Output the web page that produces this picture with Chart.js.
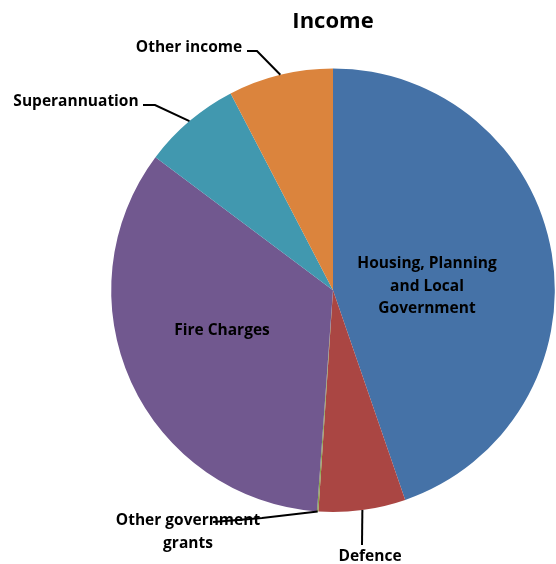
<!DOCTYPE html>
<html>
<head>
<meta charset="utf-8">
<script src="https://cdn.jsdelivr.net/npm/chart.js@4/dist/chart.umd.min.js"></script>
<style>
  html, body { margin: 0; padding: 0; background: #fff; }
  #wrap { width: 556px; height: 564px; position: relative; }
</style>
</head>
<body>
<div id="wrap"><canvas id="chart-income"></canvas></div>
<script>
// ── DATA ──────────────────────────────────────────────────────────────────
const CATEGORIES = ['Housing, Planning and Local Government', 'Defence', 'Other government grants', 'Fire Charges', 'Superannuation', 'Other income'];
const VALUES     = [44.75, 6.33, 0.1, 34.1, 7.14, 7.64];
const COLORS     = ['#4572A7', '#AA4643', '#89A54E', '#71588F', '#4198AF', '#DB843D'];

// label layout (text lines, text centre, leader elbow/end)
const LABELS = [
  { lines: ['Housing, Planning', 'and Local', 'Government'], x: 427, y: 264, step: 22.5 },
  { lines: ['Defence'], x: 370, y: 557, leader: [[362, 545]] },
  { lines: ['Other government', 'grants'], x: 188, y: 521, step: 23, leader: [[262, 518], [213, 522]] },
  { lines: ['Fire Charges'], x: 222, y: 331 },
  { lines: ['Superannuation'], x: 76, y: 102, leader: [[155, 105], [143, 105]] },
  { lines: ['Other income'], x: 189, y: 48, leader: [[257, 51], [247, 51]] },
];

const FONT = "'Open Sans', sans-serif";

// ── LABELS + LEADER LINES ────────────────────────────────────────────────
const labelPlugin = {
  id: 'pieLabels',
  afterDatasetsDraw(chart) {
    const { ctx } = chart;
    const arcs = chart.getDatasetMeta(0).data;
    ctx.save();
    ctx.strokeStyle = '#000';
    ctx.lineWidth = 2;
    arcs.forEach((arc, i) => {
      const lab = LABELS[i];
      if (!lab.leader) return;
      const mid = (arc.startAngle + arc.endAngle) / 2;
      ctx.beginPath();
      ctx.moveTo(arc.x + Math.cos(mid) * arc.outerRadius, arc.y + Math.sin(mid) * arc.outerRadius);
      lab.leader.forEach(p => ctx.lineTo(p[0], p[1]));
      ctx.stroke();
    });
    ctx.fillStyle = '#000';
    ctx.font = `bold 15.5px ${FONT}`;
    ctx.textAlign = 'center';
    ctx.textBaseline = 'middle';
    LABELS.forEach(lab => {
      lab.lines.forEach((t, j) => ctx.fillText(t, lab.x, lab.y + j * (lab.step || 0)));
    });
    ctx.restore();
  }
};

// ── PIE ──────────────────────────────────────────────────────────────────
new Chart(document.getElementById('chart-income'), {
  type: 'pie',
  data: {
    labels: CATEGORIES,
    datasets: [{
      data: VALUES,
      backgroundColor: COLORS,
      borderWidth: 0,
    }]
  },
  options: {
    responsive: true, maintainAspectRatio: false,
    animation: false,
    layout: { padding: { left: 111, right: 1, top: 0, bottom: 52 } },
    plugins: {
      legend: { display: false },
      tooltip: { enabled: false },
      title: {
        display: true, text: 'Income', color: '#000',
        font: { family: FONT, size: 22, weight: 'bold', lineHeight: 1.2 },
        padding: { top: 9, bottom: 33 }
      }
    }
  },
  plugins: [labelPlugin]
});
</script>
</body>
</html>
